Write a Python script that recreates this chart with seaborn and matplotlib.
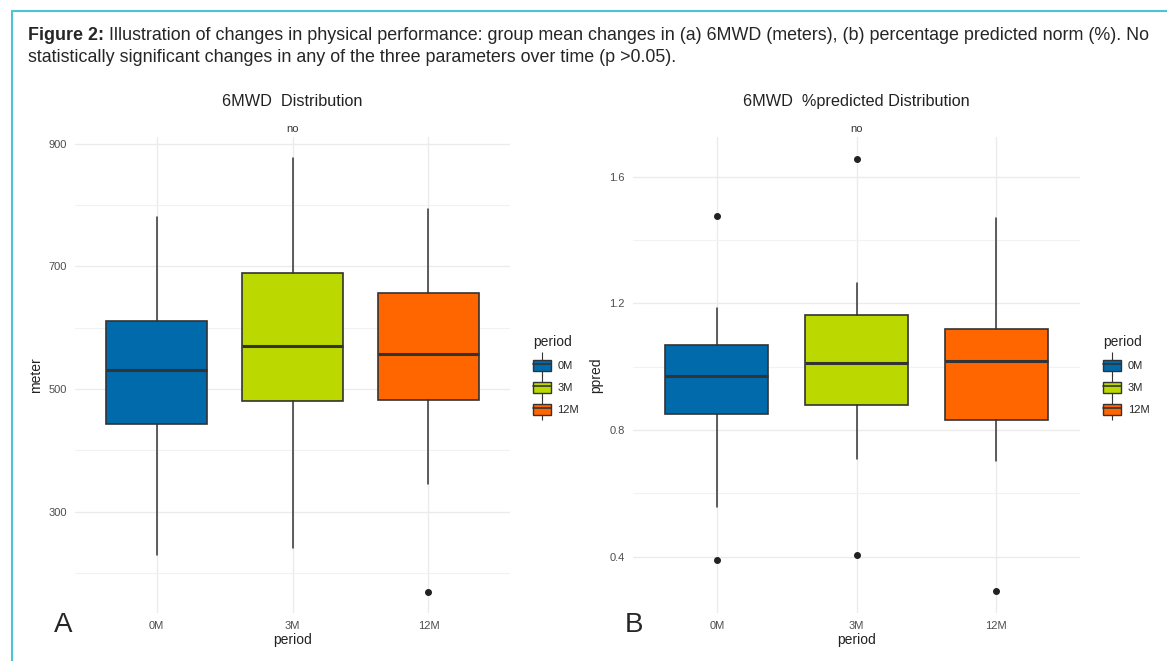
import matplotlib
matplotlib.use("Agg")
import matplotlib.pyplot as plt
import seaborn as sns
from matplotlib.lines import Line2D
from matplotlib.patches import Patch
from matplotlib.legend_handler import HandlerTuple

# periods and fill colours
periods = ["0M", "3M", "12M"]
period_colors = ["#006aab", "#bbd900", "#ff6600"]

# box stats (whisker low, Q1, median, Q3, whisker high)
mwd_whislo = [230, 241, 345]
mwd_q1 = [443, 480, 483]
mwd_med = [531, 570, 558]
mwd_q3 = [611, 690, 656]
mwd_whishi = [780, 876, 794]
mwd_fliers = [[], [], [170]]

pp_whislo = [0.557, 0.709, 0.702]
pp_q1 = [0.850, 0.879, 0.831]
pp_med = [0.970, 1.011, 1.017]
pp_q3 = [1.068, 1.162, 1.118]
pp_whishi = [1.184, 1.263, 1.468]
pp_fliers = [[1.477, 0.39], [1.657, 0.406], [0.290]]

caption_bold = "Figure 2:"
caption_rest = (" Illustration of changes in physical performance: group mean changes in (a) 6MWD (meters), "
                "(b) percentage predicted norm (%). No")
caption_line2 = "statistically significant changes in any of the three parameters over time (p >0.05)."

sns.set_theme(style="whitegrid")
plt.rcParams['font.family'] = ['Liberation Sans', 'DejaVu Sans']

fig = plt.figure(figsize=(11.67, 6.61), dpi=100)
fig.patch.set_facecolor("white")

# cyan frame round the figure box
fig.add_artist(Line2D([12 / 1167, 12 / 1167], [0, 1 - 11 / 661], color="#4cc3d9", lw=1.5))
fig.add_artist(Line2D([12 / 1167, 1], [1 - 11 / 661, 1 - 11 / 661], color="#4cc3d9", lw=1.5))

t1 = fig.text(28 / 1167, 1 - 35 / 661, caption_bold, fontsize=12.9, fontweight="bold", va="center", ha="left")
fig.canvas.draw()
bb = t1.get_window_extent()
fig.text(bb.x1 / fig.bbox.width, 1 - 35 / 661, caption_rest, fontsize=12.9, va="center", ha="left")
fig.text(28 / 1167, 1 - 57 / 661, caption_line2, fontsize=12.9, va="center", ha="left")


def make_stats(lo, q1, med, q3, hi, fl):
    out = []
    for i in range(len(periods)):
        out.append(dict(whislo=lo[i], q1=q1[i], med=med[i], q3=q3[i], whishi=hi[i], fliers=fl[i], label=periods[i]))
    return out


def draw_panel(ax, stats, ylim, yticks, minor, title, ylabel, letter, letter_x):
    ax.set_facecolor("white")
    b = ax.bxp(stats, positions=range(len(periods)), widths=0.74, showcaps=False, patch_artist=True,
               boxprops=dict(edgecolor="#333333", linewidth=1.2),
               medianprops=dict(color="#333333", linewidth=2.2),
               whiskerprops=dict(color="#333333", linewidth=1.1),
               flierprops=dict(marker="o", markerfacecolor="#222222", markeredgecolor="#222222", markersize=4))
    for patch, c in zip(b["boxes"], period_colors):
        patch.set_facecolor(c)
    ax.set_xlim(-0.6, 2.6)
    ax.set_ylim(*ylim)
    ax.set_yticks(yticks)
    ax.set_yticks(minor, minor=True)
    ax.set_xticks(range(len(periods)))
    ax.set_xticklabels(periods)
    ax.grid(True, which="major", color="#ebebeb", linewidth=1.0)
    ax.grid(True, which="minor", axis="y", color="#f2f2f2", linewidth=0.8)
    ax.set_axisbelow(True)
    for s in ax.spines.values():
        s.set_visible(False)
    ax.tick_params(axis="both", which="both", length=0, labelsize=8, labelcolor="#4d4d4d", pad=6)
    ax.set_xlabel("period", fontsize=10, labelpad=1, color="#222222")
    ax.set_ylabel(ylabel, fontsize=10, color="#222222")
    ax.set_title(title, fontsize=11.7, pad=22, color="#222222")
    ax.text(1, 1.006, "no", transform=ax.get_xaxis_transform(), ha="center", va="bottom", fontsize=8, color="#333333")
    ax.text(letter_x, -0.025, letter, transform=ax.transAxes, fontsize=20, ha="right", va="center")

    handles = []
    for c in period_colors:
        whisk = Line2D([], [], color="#333333", marker="|", markersize=17, linestyle="none", markeredgewidth=0.8)
        box = Patch(facecolor=c, edgecolor="#333333", linewidth=1.0)
        med = Line2D([], [], color="#333333", linewidth=1.2)
        handles.append((whisk, box, med))
    leg = ax.legend(handles, periods, title="period", loc="center left", bbox_to_anchor=(1.03, 0.5),
                    frameon=False, fontsize=8, title_fontsize=10, handlelength=1.6, handleheight=1.2,
                    labelspacing=0.95, handletextpad=0.6,
                    handler_map={tuple: HandlerTuple(ndivide=1, pad=0)})
    leg._legend_box.align = "left"


axA = fig.add_axes([75 / 1167, 1 - 613 / 661, 435 / 1167, 476 / 661])
draw_panel(axA, make_stats(mwd_whislo, mwd_q1, mwd_med, mwd_q3, mwd_whishi, mwd_fliers),
           (135, 911), [300, 500, 700, 900], [200, 400, 600, 800], "6MWD  Distribution", "meter", "A", -0.007)

axB = fig.add_axes([633 / 1167, 1 - 613 / 661, 447 / 1167, 476 / 661])
draw_panel(axB, make_stats(pp_whislo, pp_q1, pp_med, pp_q3, pp_whishi, pp_fliers),
           (0.222, 1.725), [0.4, 0.8, 1.2, 1.6], [0.6, 1.0, 1.4], "6MWD  %predicted Distribution", "ppred", "B", 0.022)
axB.set_yticklabels(["0.4", "0.8", "1.2", "1.6"])

fig.savefig("out.png", dpi=100)
